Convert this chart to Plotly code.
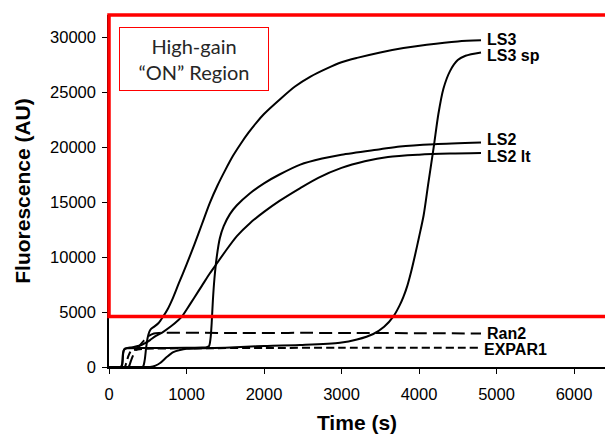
import plotly.graph_objects as go

# ---- data ----
ls3_t = [0, 200, 400, 440, 460, 480, 500, 520, 540, 580, 640, 700, 760, 820, 900, 1000, 1100, 1200, 1300, 1400, 1500, 1600, 1700, 1800, 1900, 2000, 2200, 2400, 2600, 2800, 3000, 3200, 3500, 3800, 4100, 4500, 4800]
ls3_f = [0, 0, 0, 50, 600, 1800, 2700, 3200, 3450, 3650, 4000, 4600, 5300, 6200, 7600, 9300, 11100, 13000, 14900, 16500, 17900, 19200, 20300, 21300, 22200, 23000, 24300, 25500, 26400, 27100, 27700, 28100, 28600, 29000, 29300, 29600, 29700]

ls3sp_t = [0, 400, 530, 600, 660, 745, 830, 916, 1000, 1200, 1500, 1768, 2000, 2465, 2980, 3200, 3410, 3550, 3670, 3750, 3800, 3850, 3900, 3950, 4000, 4060, 4120, 4190, 4250, 4315, 4400, 4500, 4600, 4800]
ls3sp_f = [0, 0, 0, 120, 360, 900, 1350, 1540, 1650, 1700, 1760, 1850, 1900, 2000, 2200, 2500, 3000, 3650, 4600, 5600, 6400, 7400, 8700, 10200, 11800, 13800, 16700, 20000, 23000, 25300, 26900, 27900, 28300, 28600]

ls2_t = [0, 150, 170, 180, 200, 250, 500, 1000, 1200, 1260, 1290, 1310, 1325, 1340, 1360, 1390, 1430, 1480, 1560, 1650, 1820, 2000, 2200, 2468, 2750, 3000, 3500, 3755, 4200, 4800]
ls2_f = [0, 0, 300, 1200, 1650, 1700, 1720, 1750, 1770, 1800, 1900, 2600, 4000, 6000, 8000, 10000, 11700, 12800, 13900, 14700, 15800, 16700, 17500, 18400, 18950, 19300, 19800, 20050, 20250, 20400]

ls2lt_t = [0, 160, 175, 190, 220, 300, 400, 460, 530, 600, 700, 800, 900, 943, 1000, 1100, 1200, 1300, 1370, 1500, 1650, 1822, 2000, 2200, 2468, 2700, 3000, 3300, 3600, 4000, 4400, 4800]
ls2lt_f = [0, 0, 500, 1500, 1700, 1800, 1950, 2150, 2450, 2800, 3200, 3700, 4300, 4600, 5200, 6300, 7400, 8500, 9200, 10500, 11900, 13100, 14100, 15100, 16270, 17200, 18100, 18700, 19100, 19300, 19400, 19450]

ran2_t = [0, 250, 280, 320, 380, 450, 520, 580, 650, 1500, 3000, 4800]
ran2_f = [0, 0, 500, 1200, 1800, 2400, 2850, 3050, 3100, 3100, 3100, 3050]

expar1_t = [0, 200, 220, 250, 280, 330, 450, 1000, 2000, 3000, 4800]
expar1_f = [0, 0, 300, 1000, 1400, 1550, 1650, 1700, 1730, 1750, 1750]

series_names = ["LS3", "LS3 sp", "LS2", "LS2 lt", "Ran2", "EXPAR1"]
on_threshold = 4600      # bottom of the high-gain "ON" region (AU)
on_top = 32000           # top of the region (AU)

x_ticks = [0, 1000, 2000, 3000, 4000, 5000, 6000]
y_ticks = [0, 5000, 10000, 15000, 20000, 25000, 30000]
X_MAX = 6400
Y_MAX = 32000

# ---- figure ----
series = [
    (ls3_t, ls3_f, "solid"),
    (ls3sp_t, ls3sp_f, "solid"),
    (ls2_t, ls2_f, "solid"),
    (ls2lt_t, ls2lt_f, "solid"),
    (ran2_t, ran2_f, "13px,6px"),
    (expar1_t, expar1_f, "8px,4px"),
]
label_yshift = [1, -3, 3, -3, 0, -2]
label_xshift = [4, 4, 4, 4, 4, 1]

fig = go.Figure()
for (t, f, dash), name in zip(series, series_names):
    fig.add_trace(go.Scatter(x=t, y=f, mode="lines", name=name,
                             line=dict(color="black", width=2, dash=dash, shape="spline", smoothing=0.8),
                             hoverinfo="skip"))

for i, ((t, f, dash), name) in enumerate(zip(series, series_names)):
    fig.add_annotation(x=t[-1], y=f[-1], xref="x", yref="y", text="<b>%s</b>" % name,
                       showarrow=False, xanchor="left", yanchor="middle",
                       xshift=label_xshift[i], yshift=label_yshift[i],
                       font=dict(family="Liberation Sans, Arial", size=16, color="black"))

# red "ON" region rectangle
fig.add_shape(type="rect", xref="paper", yref="paper",
              x0=0, x1=1.05, y0=on_threshold / Y_MAX, y1=on_top / Y_MAX,
              line=dict(color="#ff0000", width=3.5), fillcolor="rgba(0,0,0,0)", layer="above")

# boxed text
fig.add_annotation(xref="paper", yref="paper", x=(194 - 109) / 496, y=(367 - 59) / 352,
                   text="High-gain<br>“ON” Region", showarrow=False,
                   xanchor="center", yanchor="middle", align="center",
                   width=146, height=60, bordercolor="#ff0000", borderwidth=1, borderpad=1,
                   bgcolor="white",
                   font=dict(family="Lato, Open Sans", size=20, color="#262626"))

axis_font = dict(family="Liberation Sans, Arial", size=16.5, color="black")
title_font = dict(family="Liberation Sans, Arial", size=21, color="black")

fig.update_layout(
    width=605, height=438,
    margin=dict(l=109, r=0, t=15, b=71),
    paper_bgcolor="white", plot_bgcolor="white",
    showlegend=False,
    xaxis=dict(range=[0, X_MAX], tickvals=x_ticks, ticktext=[str(v) for v in x_ticks],
               showgrid=False, zeroline=False, showline=True, linecolor="black", linewidth=1.5,
               ticks="outside", ticklen=5, tickwidth=1, tickcolor="black",
               tickfont=axis_font, ticklabelstandoff=6,
               title=dict(text="<b>Time (s)</b>", font=title_font, standoff=14)),
    yaxis=dict(range=[0, Y_MAX], tickvals=y_ticks, ticktext=[str(v) for v in y_ticks],
               showgrid=False, zeroline=False, showline=True, linecolor="black", linewidth=1.5,
               ticks="outside", ticklen=5, tickwidth=1, tickcolor="black",
               tickfont=axis_font, ticklabelstandoff=3,
               title=dict(text="<b>Fluorescence (AU)</b>", font=title_font, standoff=14)),
)

fig.write_html("out.html")
